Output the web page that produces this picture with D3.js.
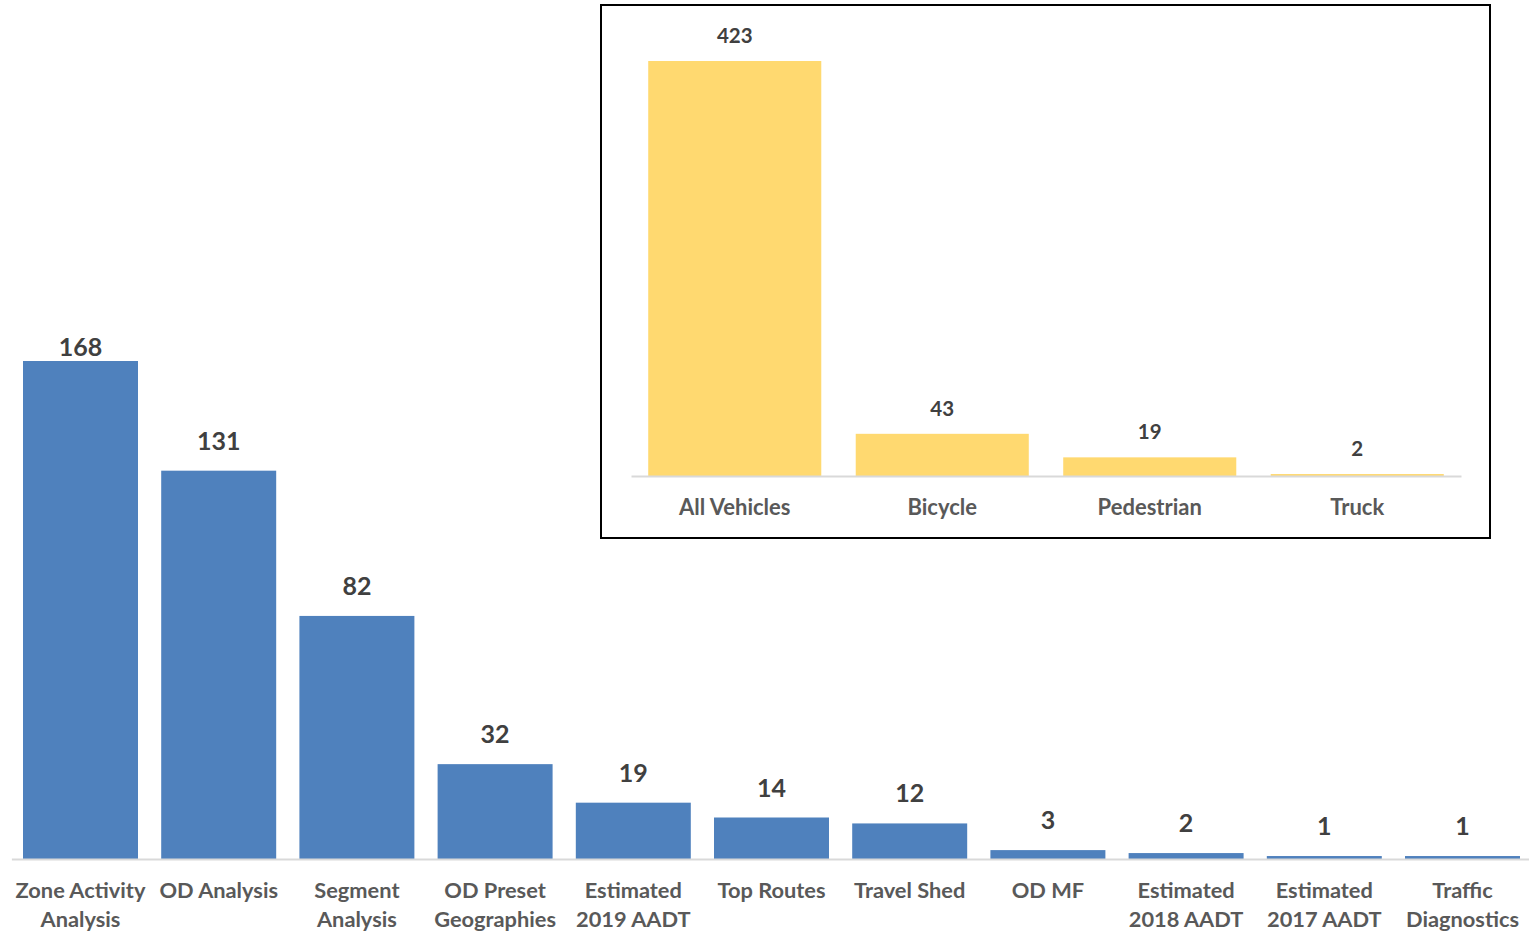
<!DOCTYPE html>
<html>
<head>
<meta charset="utf-8">
<script src="https://cdn.jsdelivr.net/npm/d3@7"></script>
<style>
  html, body { margin: 0; padding: 0; background: #fff; }
  svg { display: block; font-family: Lato, "Open Sans", sans-serif; font-weight: 700; }
</style>
</head>
<body>
<svg id="chart" width="1529" height="936"></svg>
<script>
// ---- data ----
const mainCategories = ["Zone Activity Analysis", "OD Analysis", "Segment Analysis", "OD Preset Geographies",
  "Estimated 2019 AADT", "Top Routes", "Travel Shed", "OD MF", "Estimated 2018 AADT",
  "Estimated 2017 AADT", "Traffic Diagnostics"];
const mainValues = [168, 131, 82, 32, 19, 14, 12, 3, 2, 1, 1];

const insetCategories = ["All Vehicles", "Bicycle", "Pedestrian", "Truck"];
const insetValues = [423, 43, 19, 2];

// ---- setup ----
const svg = d3.select("#chart");

function wrap(textSel, width) {
  textSel.each(function () {
    const t = d3.select(this);
    const words = t.text().split(/\s+/);
    const x = t.attr("x");
    t.text(null);
    let line = [];
    let tspan = t.append("tspan").attr("x", x).attr("dy", 0);
    words.forEach(w => {
      line.push(w);
      tspan.text(line.join(" "));
      if (tspan.node().getComputedTextLength() > width && line.length > 1) {
        line.pop();
        tspan.text(line.join(" "));
        line = [w];
        tspan = t.append("tspan").attr("x", x).attr("dy", "1.32em").text(w);
      }
    });
  });
}

// ---- main chart ----
const mainBase = 859, mainTop = 361, plotTop = 334;
const x = d3.scaleBand().domain(mainCategories).range([11.4, 1531.6])
  .paddingInner(0.168).paddingOuter(0.084);
const y = d3.scaleLinear().domain([0, d3.max(mainValues)]).range([mainBase, mainTop]);

const mainData = mainCategories.map((c, i) => ({ c, v: mainValues[i] }));

svg.append("g").selectAll("rect").data(mainData).join("rect")
  .attr("x", d => x(d.c)).attr("width", x.bandwidth())
  .attr("y", d => y(d.v)).attr("height", d => mainBase - y(d.v))
  .attr("fill", "#4F81BD");

const xAxis = svg.append("g").attr("transform", `translate(0,${mainBase})`)
  .call(d3.axisBottom(x).tickSize(0).tickFormat(""));
xAxis.select(".domain").attr("stroke", "#D9D9D9").attr("stroke-width", 2);

svg.append("g").selectAll("text").data(mainData).join("text")
  .attr("x", d => x(d.c) + x.bandwidth() / 2)
  .attr("y", d => Math.max(y(d.v) - 21, plotTop + 22))
  .attr("text-anchor", "middle").attr("font-size", 25).attr("fill", "#404040")
  .text(d => d.v);

svg.append("g").selectAll("text").data(mainCategories).join("text")
  .attr("x", d => x(d) + x.bandwidth() / 2)
  .attr("y", mainBase + 39)
  .attr("text-anchor", "middle").attr("font-size", 21.8).attr("fill", "#595959")
  .text(d => d)
  .call(wrap, x.step() - 4);

// ---- inset chart ----
svg.append("rect").attr("x", 601).attr("y", 5).attr("width", 889).attr("height", 533)
  .attr("fill", "#fff").attr("stroke", "#000").attr("stroke-width", 2);

const iBase = 476, iTop = 61;
const xi = d3.scaleBand().domain(insetCategories).range([631, 1461])
  .paddingInner(0.166).paddingOuter(0.083);
const yi = d3.scaleLinear().domain([0, d3.max(insetValues)]).range([iBase, iTop]);
const insetData = insetCategories.map((c, i) => ({ c, v: insetValues[i] }));

svg.append("g").selectAll("rect").data(insetData).join("rect")
  .attr("x", d => xi(d.c)).attr("width", xi.bandwidth())
  .attr("y", d => yi(d.v)).attr("height", d => iBase - yi(d.v))
  .attr("fill", "#FFD970");

const xiAxis = svg.append("g").attr("transform", `translate(0,${iBase})`)
  .call(d3.axisBottom(xi).tickSize(0).tickFormat(""));
xiAxis.select(".domain").attr("stroke", "#D9D9D9").attr("stroke-width", 2);

svg.append("g").selectAll("text").data(insetData).join("text")
  .attr("x", d => xi(d.c) + xi.bandwidth() / 2)
  .attr("y", d => yi(d.v) - 18)
  .attr("text-anchor", "middle").attr("font-size", 20.5).attr("fill", "#404040")
  .text(d => d.v);

svg.append("g").selectAll("text").data(insetCategories).join("text")
  .attr("x", d => xi(d) + xi.bandwidth() / 2)
  .attr("y", iBase + 39)
  .attr("text-anchor", "middle").attr("font-size", 22).attr("fill", "#595959")
  .text(d => d);
</script>
</body>
</html>
